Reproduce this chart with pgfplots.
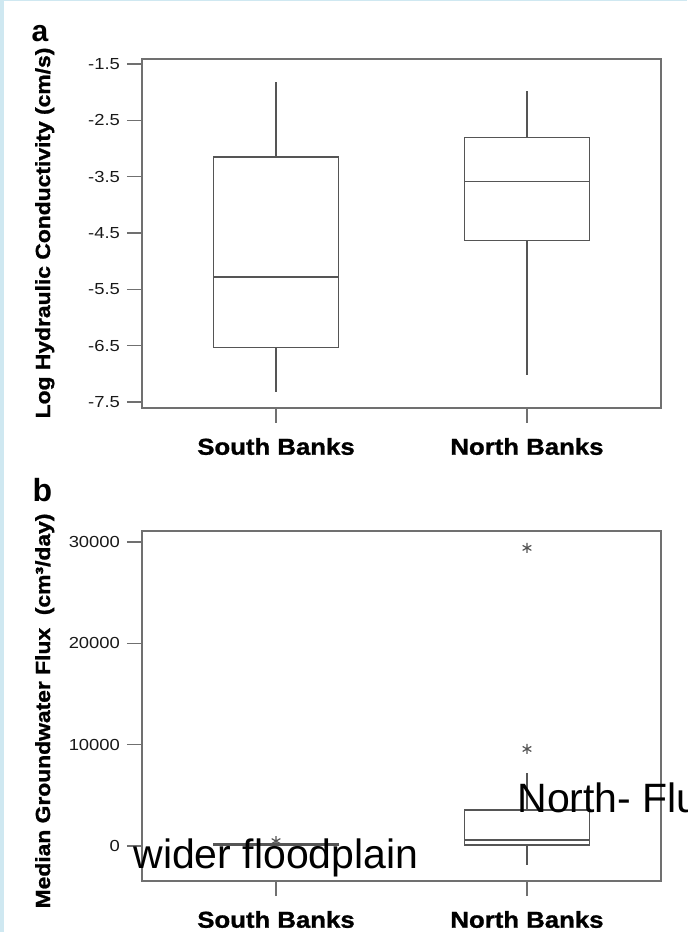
\documentclass[border=0pt]{standalone}
\usepackage{fontspec}
\setmainfont{Liberation Sans}
\newfontfamily\heavy{Liberation Sans}[FakeStretch=1.12, BoldFeatures={FakeBold=1.2}]
\newfontfamily\tickf{Liberation Sans}[FakeStretch=1.15]
\usepackage{pgfplots}
\pgfplotsset{compat=1.18}
\definecolor{axgray}{HTML}{707070}
\definecolor{boxgray}{HTML}{555555}
\definecolor{frameblue}{HTML}{CFE8F1}
\pgfplotsset{
  myax/.style={
    scale only axis, width=259.5pt, anchor=south west,
    xmin=0.466, xmax=2.534, xtick={1,2},
    xticklabels={South Banks, North Banks},
    tick align=outside, major tick length=7.5pt,
    xtick pos=bottom, ytick pos=left,
    scaled y ticks=false,
    axis line style={axgray, line width=0.9pt},
    tick style={axgray, line width=0.7pt},
    yticklabel style={font=\fontsize{8}{9}\tickf, text=black!90},
    xticklabel style={font=\fontsize{11.5}{12}\heavy\bfseries, yshift=-4pt},
  },
  bx/.style={draw=boxgray, line width=0.6pt, solid, no marks},
  outl/.style={only marks, mark=asterisk, mark size=2.5pt,
    mark options={draw=boxgray, line width=0.6pt}},
}
\begin{document}
\begin{tikzpicture}
\useasboundingbox (0,0) rectangle (343.5pt,466pt);
\fill[frameblue] (0,0) rectangle (2pt,466pt);
\fill[frameblue] (0,465.3pt) rectangle (343.5pt,466pt);

% ---------- panel a ----------
\begin{axis}[myax, at={(71pt,262pt)}, height=174.5pt,
  ymin=-7.607, ymax=-1.411,
  ytick={-7.5,-6.5,-5.5,-4.5,-3.5,-2.5,-1.5},
  yticklabels={-7.5,-6.5,-5.5,-4.5,-3.5,-2.5,-1.5}]
% South Banks
\addplot[bx] coordinates {(0.75,-6.54) (1.25,-6.54) (1.25,-3.15) (0.75,-3.15) (0.75,-6.54)};
\addplot[bx] coordinates {(0.75,-5.28) (1.25,-5.28)};
\addplot[bx] coordinates {(1,-3.15) (1,-1.82)};
\addplot[bx] coordinates {(1,-6.54) (1,-7.33)};
% North Banks
\addplot[bx] coordinates {(1.75,-4.63) (2.25,-4.63) (2.25,-2.81) (1.75,-2.81) (1.75,-4.63)};
\addplot[bx] coordinates {(1.75,-3.58) (2.25,-3.58)};
\addplot[bx] coordinates {(2,-2.81) (2,-1.98)};
\addplot[bx] coordinates {(2,-4.63) (2,-7.02)};
\end{axis}

% ---------- panel b ----------
\begin{axis}[myax, at={(71pt,25.5pt)}, height=175pt,
  ymin=-3455, ymax=31085,
  ytick={0,10000,20000,30000},
  yticklabels={0,10000,20000,30000}]
% South Banks: box, median, whiskers
\addplot[bx] coordinates {(0.75,80) (1.25,80) (1.25,200) (0.75,200) (0.75,80)};
\addplot[bx] coordinates {(0.75,120) (1.25,120)};
\addplot[bx] coordinates {(1,200) (1,300)};
% North Banks: box, median, whiskers
\addplot[bx] coordinates {(1.75,99) (2.25,99) (2.25,3554) (1.75,3554) (1.75,99)};
\addplot[bx] coordinates {(1.75,592) (2.25,592)};
\addplot[bx] coordinates {(2,3554) (2,7206)};
\addplot[bx] coordinates {(2,99) (2,-1876)};
% outliers
\addplot[outl] coordinates {(1,480) (2,29418) (2,9576)};
\end{axis}

% axis titles and panel letters
\node[rotate=90, anchor=base, font=\fontsize{10.2}{11}\heavy\bfseries]
  at (25pt,349.5pt) {Log Hydraulic Conductivity (cm/s)};
\node[rotate=90, anchor=base, font=\fontsize{10.2}{11}\heavy\bfseries]
  at (25pt,110.5pt) {Median Groundwater Flux\ \ (cm³/day)};
\node[anchor=base, font=\fontsize{15}{18}\bfseries, inner sep=0]
  at (20pt,445pt) {a};
\node[anchor=base, font=\fontsize{16}{18}\bfseries, inner sep=0]
  at (21.2pt,215pt) {b};

% overlaid annotations
\node[anchor=base west, font=\fontsize{20.5}{24}\selectfont, inner sep=0]
  at (66.5pt,31.5pt) {wider floodplain};
\node[anchor=base west, font=\fontsize{20.5}{24}\selectfont, inner sep=0]
  at (258.5pt,59.5pt) {North- Flu};
\end{tikzpicture}
\end{document}
